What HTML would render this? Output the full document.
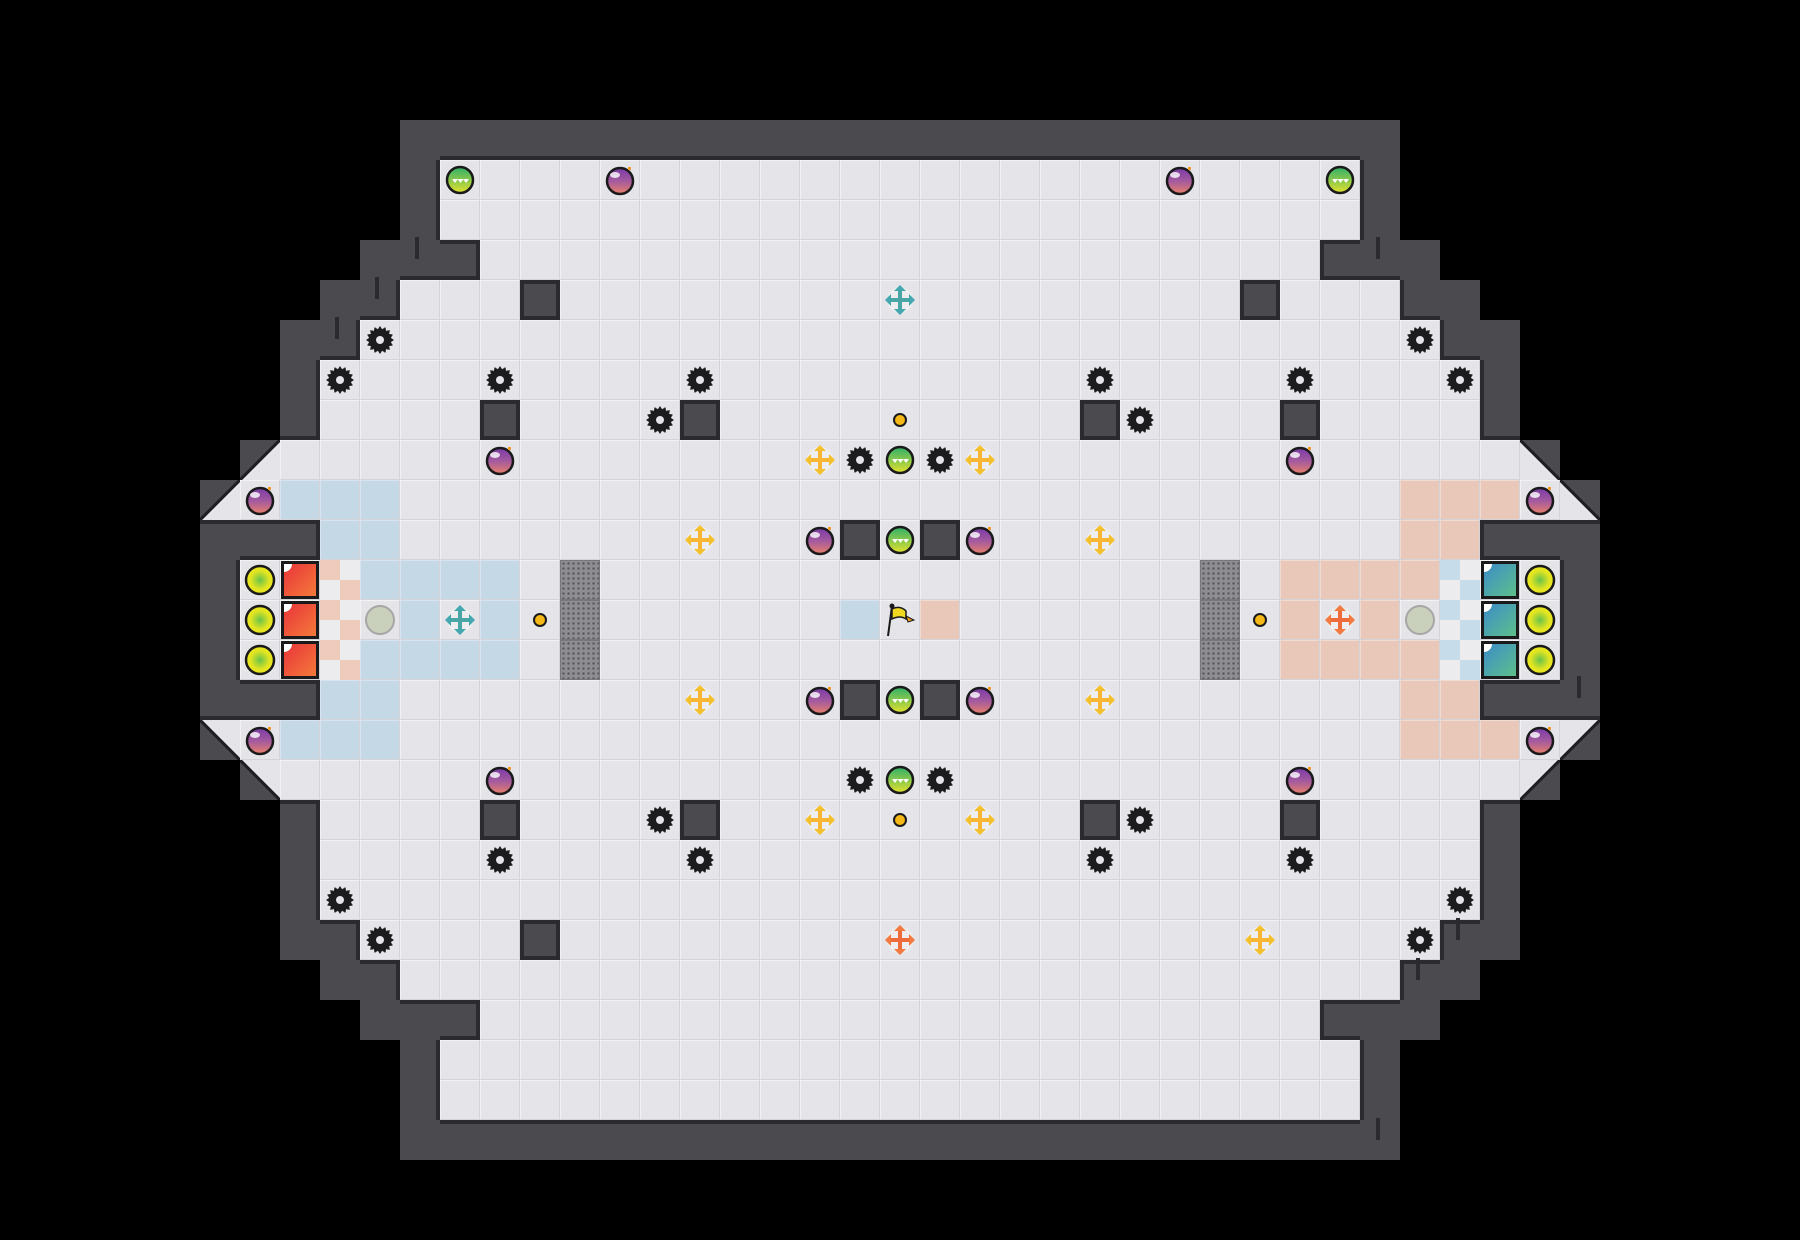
<!DOCTYPE html>
<html><head><meta charset="utf-8">
<style>
html,body{margin:0;padding:0;background:#000;}
#m{position:relative;width:1800px;height:1240px;overflow:hidden;background:#000;font-family:"Liberation Sans",sans-serif;}
.t{position:absolute;width:40px;height:40px;box-sizing:border-box;background:#e5e5e9;border-right:1px solid #d3d3d9;border-bottom:1px solid #d3d3d9;box-shadow:inset 1px 1px 0 #f2f2f5;}
.w{position:absolute;width:40px;height:40px;box-sizing:border-box;background:#4a4a4f;}
.b{position:absolute;width:40px;height:40px;box-sizing:border-box;background:#4a4a4f;border:4px solid #2b2b2f;}
.o{position:absolute;width:40px;height:40px;}
.mesh{position:absolute;width:40px;height:40px;box-sizing:border-box;background-color:#8d8d92;background-image:radial-gradient(circle,#5e5e63 1.2px,transparent 1.4px);background-size:5px 5px;border:1px solid #76767b;}
</style></head><body>
<div id="m"></div>
<script>
const M=document.getElementById('m');
function add(cls,c,r,html,extra){const d=document.createElement('div');d.className=cls;d.style.left=(c*40)+'px';d.style.top=(r*40)+'px';if(extra)d.style.cssText+=extra;if(html)d.innerHTML=html;M.appendChild(d);return d;}
const wallsL={3:'full',4:[10],5:[10],6:[9,10,11],7:[8,9],8:[7,8],9:[7],10:[7],13:[5,6,7],14:[5],15:[5],16:[5],17:[5,6,7],20:[7],21:[7],22:[7],23:[7,8],24:[8,9],25:[9,10,11],26:[10],27:[10],28:'full'};
const diag={11:[6,'u'],12:[5,'u'],18:[5,'l'],19:[6,'l']};
const grid={};
function key(c,r){return c+','+r;}
for(let r=3;r<=28;r++){
  if(wallsL[r]==='full'){for(let c=10;c<=34;c++)grid[key(c,r)]='W';continue;}
  let lw,left;
  if(wallsL[r]){lw=wallsL[r];left=Math.max(...lw);lw.forEach(c=>{grid[key(c,r)]='W';grid[key(44-c,r)]='W';});}
  else {left=diag[r][0];grid[key(left,r)]='D';grid[key(44-left,r)]='D';}
  for(let c=left+1;c<44-left;c++)grid[key(c,r)]='T';
}
const blue='#c4d8e6',pink='#eac8b9';
const col={};
function setc(c,r,v){col[key(c,r)]=v;col[key(44-c,r)]=(v===blue?pink:v);}
[[12,[7,8,9]],[13,[8,9]],[14,[9,10,11,12]],[15,[10,12]],[16,[9,10,11,12]],[17,[8,9]],[18,[7,8,9]]].forEach(([r,cs])=>cs.forEach(c=>setc(c,r,blue)));
col[key(21,15)]=blue;col[key(23,15)]=pink;
for(let r=3;r<=28;r++)for(let c=0;c<45;c++){
  const g=grid[key(c,r)];if(!g)continue;
  if(g==='T'){const d=add('t',c,r);if(col[key(c,r)]){d.style.background=col[key(c,r)];d.style.boxShadow='inset 1px 1px 0 rgba(255,255,255,.35)';}}
  else if(g==='W'){
    const d=add('w',c,r);
    const n=(cc,rr)=>{const x=grid[key(cc,rr)];return x==='T'||x==='D';};
    if(n(c,r-1))d.style.borderTop='4px solid #2b2b2f';
    if(n(c,r+1))d.style.borderBottom='4px solid #2b2b2f';
    if(n(c-1,r))d.style.borderLeft='4px solid #2b2b2f';
    if(n(c+1,r))d.style.borderRight='4px solid #2b2b2f';
  } else if(g==='D'){
    const right=c>22, up=(r<15);
    let pts;
    if(!right&&up)pts='0,0 40,0 0,40';
    else if(!right&&!up)pts='0,0 40,40 0,40';
    else if(right&&up)pts='0,0 40,0 40,40';
    else pts='40,0 40,40 0,40';
    let line;
    if((!right&&up)||(right&&!up))line='0,40 40,0';else line='0,0 40,40';
    const lp=line.split(' ');
    add('o',c,r,`<svg width="40" height="40"><rect width="40" height="40" fill="#e5e5e9"/><polygon points="${pts}" fill="#4a4a4f"/><line x1="${lp[0].split(',')[0]}" y1="${lp[0].split(',')[1]}" x2="${lp[1].split(',')[0]}" y2="${lp[1].split(',')[1]}" stroke="#1e1e22" stroke-width="3"/></svg>`);
  }
}
[[415,237],[375,277],[335,317],[1376,237],[1577,676],[1456,918],[1416,958],[1376,1118]].forEach(([x,y])=>{const d=document.createElement('div');d.style.cssText=`position:absolute;left:${x}px;top:${y}px;width:4px;height:22px;background:#2b2b2f`;M.appendChild(d);});
const gear=(()=>{let p=[];for(let i=0;i<32;i++){const a=i*Math.PI/16;const rr=i%2?11:14;p.push((20+rr*Math.cos(a)).toFixed(1)+','+(20+rr*Math.sin(a)).toFixed(1));}return `<svg width="40" height="40"><polygon points="${p.join(' ')}" fill="#1c1c1e"/><circle cx="20" cy="20" r="9.5" fill="#1c1c1e"/><circle cx="20" cy="20" r="4" fill="#e5e5e9"/></svg>`;})();
const bomb=`<svg width="40" height="40"><defs><linearGradient id="bg" x1="0" y1="0" x2="0" y2="1"><stop offset="0" stop-color="#7a3aa8"/><stop offset="0.5" stop-color="#a35a9e"/><stop offset="1" stop-color="#e8806a"/></linearGradient></defs><circle cx="20" cy="21" r="13" fill="url(#bg)" stroke="#1a1a1a" stroke-width="2.5"/><ellipse cx="15" cy="15" rx="5" ry="3" fill="#fff" opacity=".8"/><rect x="28" y="7" width="3" height="3" fill="#f39a1e"/></svg>`;
const green=`<svg width="40" height="40"><defs><linearGradient id="gg" x1="0" y1="0" x2="0" y2="1"><stop offset="0" stop-color="#2fae6a"/><stop offset="1" stop-color="#e2e22e"/></linearGradient></defs><circle cx="20" cy="20" r="13" fill="url(#gg)" stroke="#1a1a1a" stroke-width="2.5"/><path d="M12 19 l3 4 l3-4z M17.5 19 l3 4 l3-4z M23 19 l3 4 l3-4z" fill="#fff"/></svg>`;
function cross(c1,c2){return `<svg width="40" height="40"><circle cx="20" cy="20" r="13" fill="#fff" opacity=".35"/><path d="M18 9 h4 v9 h9 v4 h-9 v9 h-4 v-9 h-9 v-4 h9z" fill="${c1}"/><path d="M20 5 l6 6 h-12z M20 35 l6-6 h-12z M5 20 l6 6 v-12z M35 20 l-6 6 v-12z" fill="${c2}"/></svg>`;}
const ycross=cross('#f7b733','#f5c02e'), tcross=cross('#4aa6a6','#45a8b0'), ocross=cross('#ef6a3a','#f07a3f');
const ydot=`<svg width="40" height="40"><circle cx="20" cy="20" r="6" fill="#f5b818" stroke="#1a1a1a" stroke-width="2"/></svg>`;
const ycirc=`<svg width="40" height="40"><defs><radialGradient id="yc"><stop offset="0" stop-color="#6ac24a"/><stop offset=".7" stop-color="#e6e620"/></radialGradient></defs><circle cx="20" cy="20" r="14" fill="url(#yc)" stroke="#1a1a1a" stroke-width="2.5"/></svg>`;
const gcirc=`<svg width="40" height="40"><circle cx="20" cy="20" r="14" fill="#c9d1bc" stroke="#a6a6a6" stroke-width="2"/></svg>`;
function sq(a,b,id){return `<svg width="40" height="40"><defs><linearGradient id="${id}" x1="0" y1="0" x2="1" y2="1"><stop offset="0" stop-color="${a}"/><stop offset="1" stop-color="${b}"/></linearGradient></defs><rect x="1" y="1" width="38" height="38" fill="#1a1a1a"/><rect x="4" y="4" width="32" height="32" fill="url(#${id})"/><path d="M4 4 h8 a8 8 0 0 1 -8 8z" fill="#fff"/></svg>`;}
const flag=`<svg width="40" height="40"><line x1="8" y1="36" x2="12" y2="6" stroke="#1a1a1a" stroke-width="2"/><circle cx="12" cy="6" r="2.5" fill="#1a1a1a"/><path d="M12 9 q8 -4 14 2 l0 8 q-6 -4 -14 0z" fill="#f0d820" stroke="#1a1a1a" stroke-width="1.5"/><path d="M26 16 l8 4 l-6 2z" fill="#f0a020" stroke="#1a1a1a" stroke-width="1"/></svg>`;
function put(list,html){list.forEach(([c,r])=>add('o',c,r,html));}
put([[9,8],[35,8],[8,9],[12,9],[17,9],[27,9],[32,9],[36,9],[16,10],[28,10],[21,11],[23,11],[21,19],[23,19],[16,20],[28,20],[12,21],[17,21],[27,21],[32,21],[8,22],[36,22],[9,23],[35,23]],gear);
put([[15,4],[29,4],[12,11],[32,11],[6,12],[38,12],[20,13],[24,13],[20,17],[24,17],[6,18],[38,18],[12,19],[32,19]],bomb);
put([[11,4],[33,4],[22,11],[22,13],[22,17],[22,19]],green);
put([[20,11],[24,11],[17,13],[27,13],[17,17],[27,17],[20,20],[24,20],[31,23]],ycross);
put([[22,7],[11,15]],tcross);
put([[22,23],[33,15]],ocross);
put([[22,10],[22,20],[13,15],[31,15]],ydot);
[[13,7],[31,7],[12,10],[17,10],[27,10],[32,10],[21,13],[23,13],[21,17],[23,17],[12,20],[17,20],[27,20],[32,20],[13,23]].forEach(([c,r])=>add('b',c,r));
[14,15,16].forEach(r=>{add('mesh',14,r);add('mesh',30,r);
 add('t',6,r);add('o',6,r,ycirc);add('t',38,r);add('o',38,r,ycirc);
 add('t',7,r);add('o',7,r,sq('#e8343a','#f57a3a','r'+r));
 add('t',37,r);add('o',37,r,sq('#3d8cc8','#5cc08a','b'+r));
 add('o',8,r,`<svg width="40" height="40"><rect width="40" height="40" fill="#ececee"/><rect width="20" height="20" fill="#efcbbc"/><rect x="20" y="20" width="20" height="20" fill="#efcbbc"/></svg>`);
 add('o',36,r,`<svg width="40" height="40"><rect width="40" height="40" fill="#ececee"/><rect width="20" height="20" fill="#c6dcea"/><rect x="20" y="20" width="20" height="20" fill="#c6dcea"/></svg>`);
});
add('o',9,15,gcirc);add('o',35,15,gcirc);
add('o',22,15,flag);
</script>
</body></html>
